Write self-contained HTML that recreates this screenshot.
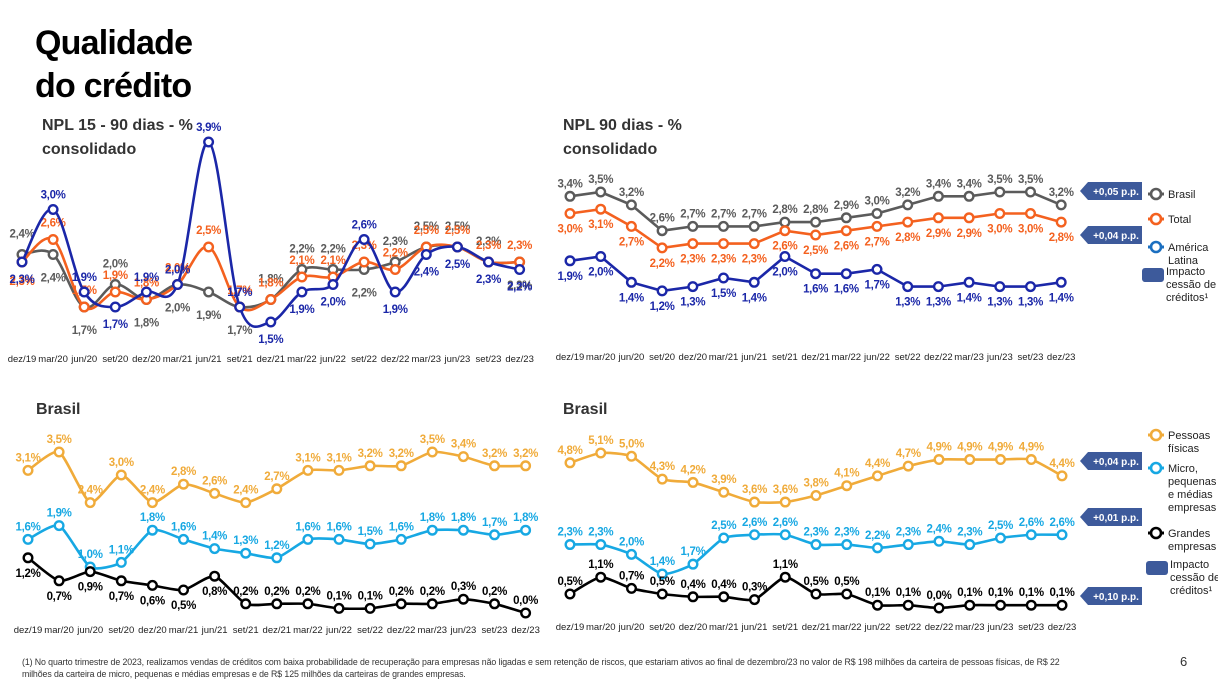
<!DOCTYPE html>
<html><head><meta charset="utf-8">
<style>
body{margin:0;width:1218px;height:685px;background:#fff;overflow:hidden;font-family:"Liberation Sans",sans-serif;position:relative}
.t{position:absolute;white-space:nowrap}
</style></head><body>
<div class="t" style="left:35px;top:22px;font-size:34px;font-weight:bold;line-height:43px;color:#000;letter-spacing:-0.8px">Qualidade<br>do crédito</div>
<div class="t" style="left:42px;top:114px;font-size:16px;font-weight:bold;line-height:24px;color:#333">NPL 15 - 90 dias - %<br>consolidado</div>
<div class="t" style="left:563px;top:114px;font-size:16px;font-weight:bold;line-height:24px;color:#333">NPL 90 dias - %<br>consolidado</div>
<div class="t" style="left:36px;top:401px;font-size:16px;font-weight:bold;color:#333">Brasil</div>
<div class="t" style="left:563px;top:401px;font-size:16px;font-weight:bold;color:#333">Brasil</div>
<div class="t" style="left:22px;top:656px;font-size:8.8px;line-height:12px;color:#333;letter-spacing:-0.1px">(1) No quarto trimestre de 2023, realizamos vendas de créditos com baixa probabilidade de recuperação para empresas não ligadas e sem retenção de riscos, que estariam ativos ao final de dezembro/23 no valor de R$ 198 milhões da carteira de pessoas físicas, de R$ 22<br>milhões da carteira de micro, pequenas e médias empresas e de R$ 125 milhões da carteiras de grandes empresas.</div>
<div class="t" style="left:1180px;top:654px;font-size:13px;color:#333">6</div>
<svg id="s" width="1218" height="685" style="position:absolute;left:0;top:0"></svg>
<script>
const cats=["dez/19","mar/20","jun/20","set/20","dez/20","mar/21","jun/21","set/21","dez/21","mar/22","jun/22","set/22","dez/22","mar/23","jun/23","set/23","dez/23"];
const tlBlue=[2.3,3.0,1.9,1.7,1.9,2.0,3.9,1.7,1.5,1.9,2.0,2.6,1.9,2.4,2.5,2.3,2.2];
const tlOrange=[2.3,2.6,1.7,1.9,1.8,2.0,2.5,1.7,1.8,2.1,2.1,2.3,2.2,2.5,2.5,2.3,2.3];
const tlGray=[2.4,2.4,1.7,2.0,1.8,2.0,1.9,1.7,1.8,2.2,2.2,2.2,2.3,2.5,2.5,2.3,2.3];
const trGray=[3.4,3.5,3.2,2.6,2.7,2.7,2.7,2.8,2.8,2.9,3.0,3.2,3.4,3.4,3.5,3.5,3.2];
const trOrange=[3.0,3.1,2.7,2.2,2.3,2.3,2.3,2.6,2.5,2.6,2.7,2.8,2.9,2.9,3.0,3.0,2.8];
const trBlue=[1.9,2.0,1.4,1.2,1.3,1.5,1.4,2.0,1.6,1.6,1.7,1.3,1.3,1.4,1.3,1.3,1.4];
const blGold=[3.1,3.5,2.4,3.0,2.4,2.8,2.6,2.4,2.7,3.1,3.1,3.2,3.2,3.5,3.4,3.2,3.2];
const blLight=[1.6,1.9,1.0,1.1,1.8,1.6,1.4,1.3,1.2,1.6,1.6,1.5,1.6,1.8,1.8,1.7,1.8];
const blBlack=[1.2,0.7,0.9,0.7,0.6,0.5,0.8,0.2,0.2,0.2,0.1,0.1,0.2,0.2,0.3,0.2,0.0];
const brGold=[4.8,5.1,5.0,4.3,4.2,3.9,3.6,3.6,3.8,4.1,4.4,4.7,4.9,4.9,4.9,4.9,4.4];
const brLight=[2.3,2.3,2.0,1.4,1.7,2.5,2.6,2.6,2.3,2.3,2.2,2.3,2.4,2.3,2.5,2.6,2.6];
const brBlack=[0.5,1.1,0.7,0.5,0.4,0.4,0.3,1.1,0.5,0.5,0.1,0.1,0.0,0.1,0.1,0.1,0.1];

const S=document.getElementById('s');const NS='http://www.w3.org/2000/svg';
function mk(tag,at){const e=document.createElementNS(NS,tag);for(const k in at)e.setAttribute(k,at[k]);S.appendChild(e);return e;}
function fmt(v){return v.toFixed(1).replace('.',',')+'%';}
function path(pts,smooth){
  let d='M'+pts[0][0]+','+pts[0][1];
  for(let i=1;i<pts.length;i++){
    if(!smooth){d+='L'+pts[i][0]+','+pts[i][1];continue;}
    const p0=pts[Math.max(0,i-2)],p1=pts[i-1],p2=pts[i],p3=pts[Math.min(pts.length-1,i+1)];
    const t=smooth/6;
    d+='C'+(p1[0]+(p2[0]-p0[0])*t)+','+(p1[1]+(p2[1]-p0[1])*t)+' '+(p2[0]-(p3[0]-p1[0])*t)+','+(p2[1]-(p3[1]-p1[1])*t)+' '+p2[0]+','+p2[1];
  }
  return d;
}
function series(name,vals,xf,yf,color,dirs,smooth,gap){
  gap=gap||0;
  const pts=vals.map((v,i)=>[xf(i),yf(v)]);
  const p=mk('path',{d:path(pts,smooth),fill:'none',stroke:color,'stroke-width':2.6});
  
  
  vals.forEach((v,i)=>{
    const c=mk('circle',{cx:pts[i][0],cy:pts[i][1],r:4.3,fill:'#fff',stroke:color,'stroke-width':2.4});
    
    
    const d=typeof dirs==='string'?dirs:dirs[i];
    const t=mk('text',{x:pts[i][0],y:pts[i][1]+(d==='b'?19+gap:-9-gap),'text-anchor':'middle','font-size':11.5,'font-weight':'bold',fill:color,'letter-spacing':'-0.3'});
    t.textContent=fmt(v);
    
    
  });
}
function axis(name,x0,step,y){
  cats.forEach((c,i)=>{const t=mk('text',{x:x0+i*step,y:y,'text-anchor':'middle','font-size':9.5,fill:'#222'});t.textContent=c;
    
    });
}
function badge(name,x,y,txt){
  const g=mk('path',{d:`M${x},${y+9} L${x+8},${y} L${x+62},${y} L${x+62},${y+18} L${x+8},${y+18} Z`,fill:'#3d5a9b'});
  
  
  const t=mk('text',{x:x+36,y:y+13,'text-anchor':'middle','font-size':10,'font-weight':'bold',fill:'#fff'});t.textContent=txt;
  
  
}
function legend(name,x,y,color,lines){
  const l=mk('line',{x1:x-8,y1:y,x2:x+8,y2:y,stroke:color,'stroke-width':3});
  
  
  mk('circle',{cx:x,cy:y,r:5,fill:'#fff',stroke:color,'stroke-width':2.6});
  lines.forEach((s,i)=>{const t=mk('text',{x:x+12,y:y+4+i*13,'font-size':11,fill:'#222'});t.textContent=s;
    
    });
}
function legendImpact(x,y){
  const r=mk('rect',{x:x-10,y:y-7,width:22,height:14,rx:3,fill:'#3d5a9b'});
  
  
  ['Impacto','cessão de','créditos¹'].forEach((s,i)=>{const t=mk('text',{x:x+14,y:y+i*13,'font-size':11,fill:'#222'});t.textContent=s;
    
    });
}
// top-left
const tlx=i=>22+i*31.1, tly=v=>142+(3.9-v)*75;
series('tl-gray',tlGray,tlx,tly,'#5b5b5b',['a','b','b','a','b','b','b','b','a','a','a','b','a','a','a','a','b'],1,8);
series('tl-orange',tlOrange,tlx,tly,'#f4611f',['b','a','a','a','a','a','a','a','a','a','a','a','a','a','a','a','a'],1,4);
series('tl-blue',tlBlue,tlx,tly,'#1b27a8',['b','a','a','b','a','a','a','a','b','b','b','a','b','b','b','b','b'],1,2);
axis('tl-x',22,31.1,362);
// top-right
const trx=i=>570+i*30.7, try_=v=>192+(3.5-v)*43;
series('tr-gray',trGray,trx,try_,'#5b5b5b','a',0);
series('tr-orange',trOrange,trx,try_,'#f4611f','b',0);
series('tr-blue',trBlue,trx,try_,'#1b27a8','b',0);
axis('tr-x',570,30.7,360);
badge('badge-brasil',1080,182,'+0,05 p.p.');
badge('badge-total',1080,226,'+0,04 p.p.');
legend('legend-brasil',1156,194,'#5b5b5b',['Brasil']);
legend('legend-total',1156,219,'#f4611f',['Total']);
legend('legend-latam',1156,247,'#1b6fc0',['América','Latina']);
legendImpact(1152,275);
// bottom-left
const blx=i=>28+i*31.1, bly=v=>452+(3.5-v)*46;
series('bl-gold',blGold,blx,bly,'#f0ab3a','a',0.6);
series('bl-light',blLight,blx,bly,'#17a8e3','a',0.6);
series('bl-black',blBlack,blx,bly,'#000',['b','b','b','b','b','b','b','a','a','a','a','a','a','a','a','a','a'],0.6);
axis('bl-x',28,31.1,633);
// bottom-right
const brx=i=>570+i*30.75, bry=v=>453+(5.1-v)*32.7, brk=v=>608-v*28;
series('br-gold',brGold,brx,bry,'#f0ab3a','a',0.6);
series('br-light',brLight,brx,bry,'#17a8e3','a',0.6);
series('br-black',brBlack,brx,brk,'#000','a',0.6);
axis('br-x',570,30.75,630);
badge('badge-pf',1080,452,'+0,04 p.p.');
badge('badge-mpme',1080,508,'+0,01 p.p.');
badge('badge-ge',1080,587,'+0,10 p.p.');
legend('legend-pf',1156,435,'#f0ab3a',['Pessoas','físicas']);
legend('legend-mpme',1156,468,'#17a8e3',['Micro,','pequenas','e médias','empresas']);
legend('legend-ge',1156,533,'#000',['Grandes','empresas']);
legendImpact(1156,568);
</script>
</body></html>
